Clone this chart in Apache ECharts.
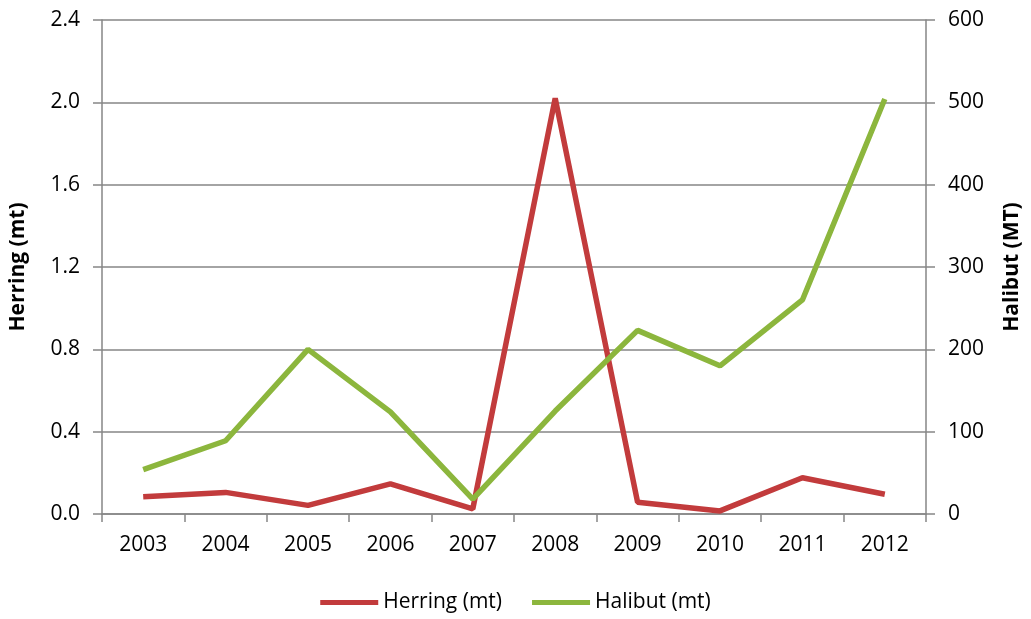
<!DOCTYPE html>
<html>
<head>
<meta charset="utf-8">
<script src="https://cdn.jsdelivr.net/npm/echarts@6/dist/echarts.min.js"></script>
<style>
  html, body { margin: 0; padding: 0; background: #fff; }
  #chart { width: 1031px; height: 619px; }
</style>
</head>
<body>
<div id="chart"></div>
<script>
const years = ["2003", "2004", "2005", "2006", "2007", "2008", "2009", "2010", "2011", "2012"];
const herring = [0.084, 0.105, 0.042, 0.146, 0.025, 2.02, 0.057, 0.015, 0.176, 0.096];
const halibut = [54, 89, 200, 124, 18, 125, 223, 180, 260, 504];

const axisGray = "#868686";
const font = "'Open Sans', 'Liberation Sans', sans-serif";

const chart = echarts.init(document.getElementById("chart"));

chart.setOption({
  animation: false,
  textStyle: { fontFamily: font },
  grid: { left: 102, right: 104, top: 20, bottom: 105 },
  legend: {
    bottom: 1,
    left: "center",
    itemWidth: 58,
    itemHeight: 5,
    itemGap: 30,
    textStyle: { fontSize: 21, color: "#000", fontFamily: font },
    data: [
      { name: "Herring (mt)", icon: "rect" },
      { name: "Halibut (mt)", icon: "rect" }
    ]
  },
  xAxis: {
    type: "category",
    data: years,
    boundaryGap: true,
    axisLine: { lineStyle: { color: axisGray, width: 1.5 } },
    axisTick: { show: true, length: 8, lineStyle: { color: axisGray, width: 1.5 } },
    axisLabel: { fontSize: 21, color: "#000", margin: 21 }
  },
  yAxis: [
    {
      type: "value",
      name: "Herring (mt)",
      nameLocation: "middle",
      nameGap: 73,
      nameTextStyle: { fontSize: 21, fontWeight: "bold", color: "#000" },
      min: 0,
      max: 2.4,
      interval: 0.4,
      axisLine: { show: true, lineStyle: { color: axisGray, width: 1.5 } },
      axisTick: { show: true, length: 9, lineStyle: { color: axisGray, width: 1.5 } },
      axisLabel: {
        fontSize: 21,
        color: "#000",
        margin: 22,
        formatter: v => v.toFixed(1)
      },
      splitLine: { show: true, lineStyle: { color: axisGray, width: 1.5 } }
    },
    {
      type: "value",
      name: "Halibut (MT)",
      nameLocation: "middle",
      nameGap: 76,
      nameRotate: 90,
      nameTextStyle: { fontSize: 21, fontWeight: "bold", color: "#000" },
      min: 0,
      max: 600,
      interval: 100,
      axisLine: { show: true, lineStyle: { color: axisGray, width: 1.5 } },
      axisTick: { show: true, length: 9, lineStyle: { color: axisGray, width: 1.5 } },
      axisLabel: { fontSize: 21, color: "#000", margin: 22 },
      splitLine: { show: false }
    }
  ],
  series: [
    {
      name: "Herring (mt)",
      type: "line",
      yAxisIndex: 0,
      data: herring,
      symbol: "none",
      color: "#c23b3c",
      lineStyle: { width: 5.5, color: "#c23b3c" },
      z: 3
    },
    {
      name: "Halibut (mt)",
      type: "line",
      yAxisIndex: 1,
      data: halibut,
      symbol: "none",
      color: "#8cb63d",
      lineStyle: { width: 5.5, color: "#8cb63d" },
      z: 4
    }
  ]
});
</script>
</body>
</html>
